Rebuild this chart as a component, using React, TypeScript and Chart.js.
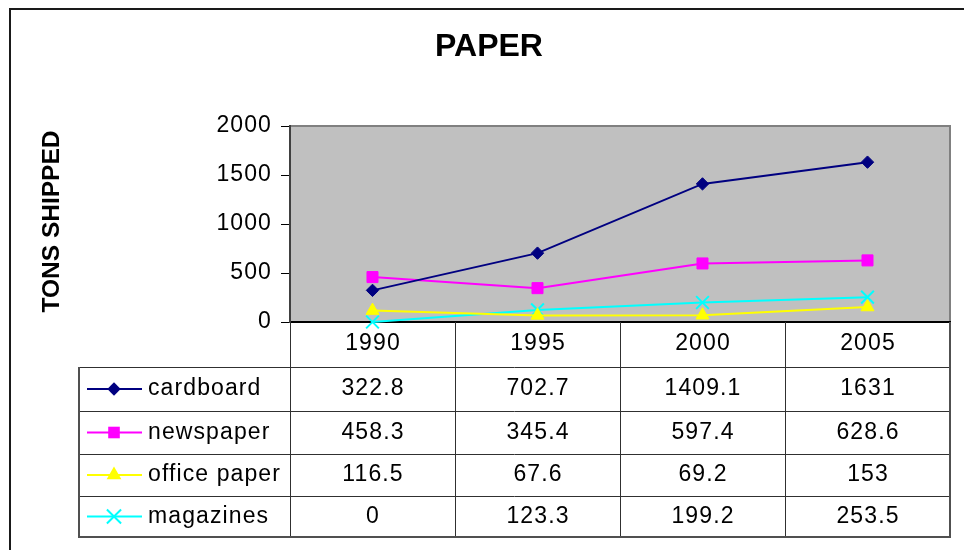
import React, { useEffect, useRef } from 'react';
import { Chart, registerables } from 'chart.js';

Chart.register(...registerables);

// ---------- data ----------
const years = ['1990', '1995', '2000', '2005'];
const cardboard = [322.8, 702.7, 1409.1, 1631];
const newspaper = [458.3, 345.4, 597.4, 628.6];
const officePaper = [116.5, 67.6, 69.2, 153];
const magazines = [0, 123.3, 199.2, 253.5];
const seriesNames = ['cardboard', 'newspaper', 'office paper', 'magazines'];
const seriesValues = [cardboard, newspaper, officePaper, magazines];
const yMin = 0;
const yMax = 2000;
const yStep = 500;
const chartTitle = 'PAPER';
const yAxisTitle = 'TONS SHIPPED';

// ---------- styles ----------
const seriesColors = ['#000080', '#FF00FF', '#FFFF00', '#00FFFF'];
const seriesMarkers = ['rectRot', 'rect', 'triangle', 'crossRot'];
const seriesRadius = [6.2, 7.8, 7.5, 9];
const legendRadius = [6.7, 8.2, 8.5, 10];
const FONT = '"Liberation Sans", Arial, Helvetica, sans-serif';
const SPACING = '1.1px';
const TEXT_SIZE = 23;

// table layout (pixels)
const TABLE_LEFT = 79;
const CAT_ROW_BOTTOM = 367;
const ROW_LINES = [367, 411, 454, 496, 537];
const KEY_X1 = 87;
const KEY_X2 = 142;
const KEY_MX = 114;
const NAME_X = 148;

function drawMarker(ctx: CanvasRenderingContext2D, style: string, x: number, y: number, r: number, color: string) {
  ctx.save();
  ctx.fillStyle = color;
  ctx.strokeStyle = color;
  ctx.lineWidth = 2;
  ctx.beginPath();
  if (style === 'rectRot') {
    ctx.moveTo(x, y - r);
    ctx.lineTo(x + r, y);
    ctx.lineTo(x, y + r);
    ctx.lineTo(x - r, y);
    ctx.closePath();
    ctx.fill();
  } else if (style === 'rect') {
    const s = r * Math.SQRT1_2;
    ctx.rect(x - s, y - s, 2 * s, 2 * s);
    ctx.fill();
  } else if (style === 'triangle') {
    ctx.moveTo(x, y - r);
    ctx.lineTo(x + r * Math.sin(Math.PI / 3), y + r * 0.5);
    ctx.lineTo(x - r * Math.sin(Math.PI / 3), y + r * 0.5);
    ctx.closePath();
    ctx.fill();
  } else {
    const d = r * Math.SQRT1_2;
    ctx.moveTo(x - d, y - d);
    ctx.lineTo(x + d, y + d);
    ctx.moveTo(x + d, y - d);
    ctx.lineTo(x - d, y + d);
    ctx.stroke();
  }
  ctx.restore();
}

const decorPlugin = {
  id: 'paperDecor',
  beforeDraw(chart: any) {
    const { ctx, chartArea: a } = chart;
    ctx.save();
    ctx.fillStyle = '#ffffff';
    ctx.fillRect(0, 0, chart.width, chart.height);
    ctx.fillStyle = '#C0C0C0';
    ctx.fillRect(a.left, a.top, a.right - a.left, a.bottom - a.top);
    ctx.strokeStyle = '#808080';
    ctx.lineWidth = 2;
    ctx.strokeRect(a.left, a.top, a.right - a.left, a.bottom - a.top);
    ctx.restore();
    (ctx as any).letterSpacing = SPACING;
  },
  afterDraw(chart: any) {
    const { ctx, chartArea: a } = chart;
    const xs = chart.scales.x;
    const n = years.length;
    const colW = n > 1 ? xs.getPixelForValue(1) - xs.getPixelForValue(0) : a.right - a.left;
    const centers = years.map((_, i) => xs.getPixelForValue(i));
    const bounds = centers.map((c) => c - colW / 2).concat([centers[n - 1] + colW / 2]);
    const tableBottom = ROW_LINES[ROW_LINES.length - 1];

    ctx.save();
    // inner table lines
    ctx.strokeStyle = '#303030';
    ctx.lineWidth = 1;
    ctx.beginPath();
    bounds.forEach((bx: number, i: number) => {
      if (i === bounds.length - 1) return;
      const px = Math.round(bx) + 0.5;
      ctx.moveTo(px, a.bottom);
      ctx.lineTo(px, tableBottom);
    });
    ROW_LINES.slice(0, -1).forEach((ry) => {
      ctx.moveTo(TABLE_LEFT, ry + 0.5);
      ctx.lineTo(bounds[n], ry + 0.5);
    });
    ctx.stroke();
    // outer table border
    ctx.strokeStyle = '#505050';
    ctx.lineWidth = 2;
    ctx.beginPath();
    ctx.moveTo(TABLE_LEFT, ROW_LINES[0]);
    ctx.lineTo(TABLE_LEFT, tableBottom);
    ctx.lineTo(bounds[n], tableBottom);
    ctx.lineTo(bounds[n], a.bottom);
    ctx.stroke();

    // category labels
    (ctx as any).letterSpacing = SPACING;
    ctx.fillStyle = '#000';
    ctx.font = `${TEXT_SIZE}px ${FONT}`;
    ctx.textAlign = 'center';
    ctx.textBaseline = 'middle';
    const catY = (a.bottom + CAT_ROW_BOTTOM) / 2 - 1;
    years.forEach((y, i) => ctx.fillText(y, centers[i] + 0.5, catY));

    // rows
    seriesNames.forEach((name, r) => {
      const cy = (ROW_LINES[r] + ROW_LINES[r + 1]) / 2;
      // key line
      ctx.save();
      ctx.strokeStyle = seriesColors[r];
      ctx.lineWidth = 2;
      ctx.beginPath();
      ctx.moveTo(KEY_X1, cy);
      ctx.lineTo(KEY_X2, cy);
      ctx.stroke();
      ctx.restore();
      drawMarker(ctx, seriesMarkers[r], KEY_MX, cy, legendRadius[r], seriesColors[r]);
      // name
      ctx.textAlign = 'left';
      ctx.fillStyle = '#000';
      ctx.fillText(name, NAME_X, cy);
      // values
      ctx.textAlign = 'center';
      seriesValues[r].forEach((v, i) => {
        ctx.fillText(String(v), centers[i] + 0.5, cy);
      });
    });

    // titles (no letter spacing)
    (ctx as any).letterSpacing = '0px';
    ctx.font = `bold 32px ${FONT}`;
    ctx.textAlign = 'center';
    ctx.textBaseline = 'middle';
    ctx.fillText(chartTitle, 489, 47);

    ctx.save();
    ctx.translate(52.5, 221.5);
    ctx.rotate(-Math.PI / 2);
    ctx.font = `bold 24.5px ${FONT}`;
    ctx.fillText(yAxisTitle, 0, 0);
    ctx.restore();

    // outer frame (cropped on the right and bottom)
    ctx.strokeStyle = '#1a1a1a';
    ctx.lineWidth = 2;
    ctx.beginPath();
    ctx.moveTo(10, chart.height);
    ctx.lineTo(10, 9);
    ctx.lineTo(chart.width, 9);
    ctx.stroke();
    ctx.restore();
  },
};

export default function App() {
  const ref = useRef<HTMLCanvasElement>(null);

  useEffect(() => {
    const canvas = ref.current;
    if (!canvas) return;
    const datasets = seriesNames.map((name, i) => ({
      label: name,
      data: seriesValues[i],
      borderColor: seriesColors[i],
      backgroundColor: seriesColors[i],
      borderWidth: 2,
      pointStyle: seriesMarkers[i] as any,
      pointRadius: seriesRadius[i],
      pointHoverRadius: seriesRadius[i],
      pointBackgroundColor: seriesColors[i],
      pointBorderColor: seriesColors[i],
      pointBorderWidth: seriesMarkers[i] === 'crossRot' ? 2 : 1,
      tension: 0,
      fill: false,
      clip: false as any,
    }));

    const chart = new Chart(canvas, {
      type: 'line',
      data: { labels: years, datasets },
      options: {
        animation: false,
        responsive: false,
        devicePixelRatio: 1,
        events: [],
        layout: { padding: { top: 126, left: 0, right: 14, bottom: 228 } },
        plugins: {
          legend: { display: false },
          title: { display: false },
          tooltip: { enabled: false },
        },
        scales: {
          x: {
            type: 'category',
            offset: true,
            grid: { display: false },
            ticks: { display: false },
            border: { display: true, color: '#000000', width: 2 },
            afterFit: (s: any) => {
              s.height = 0;
            },
          },
          y: {
            min: yMin,
            max: yMax,
            ticks: {
              stepSize: yStep,
              color: '#000',
              padding: 9,
              font: { family: FONT, size: TEXT_SIZE },
              callback: (v: any) => String(v),
            },
            grid: {
              display: true,
              drawOnChartArea: false,
              drawTicks: true,
              tickLength: 9,
              color: '#000',
              lineWidth: 1,
            },
            border: { display: true, color: '#404040', width: 2 },
            afterFit: (s: any) => {
              s.width = 290;
            },
          },
        },
      },
      plugins: [decorPlugin],
    });
    return () => chart.destroy();
  }, []);

  return (
    <div style={{ position: 'absolute', left: 0, top: 0, width: 964, height: 550, background: '#fff' }}>
      <canvas ref={ref} width={964} height={550} style={{ display: 'block', width: 964, height: 550 }} />
    </div>
  );
}
